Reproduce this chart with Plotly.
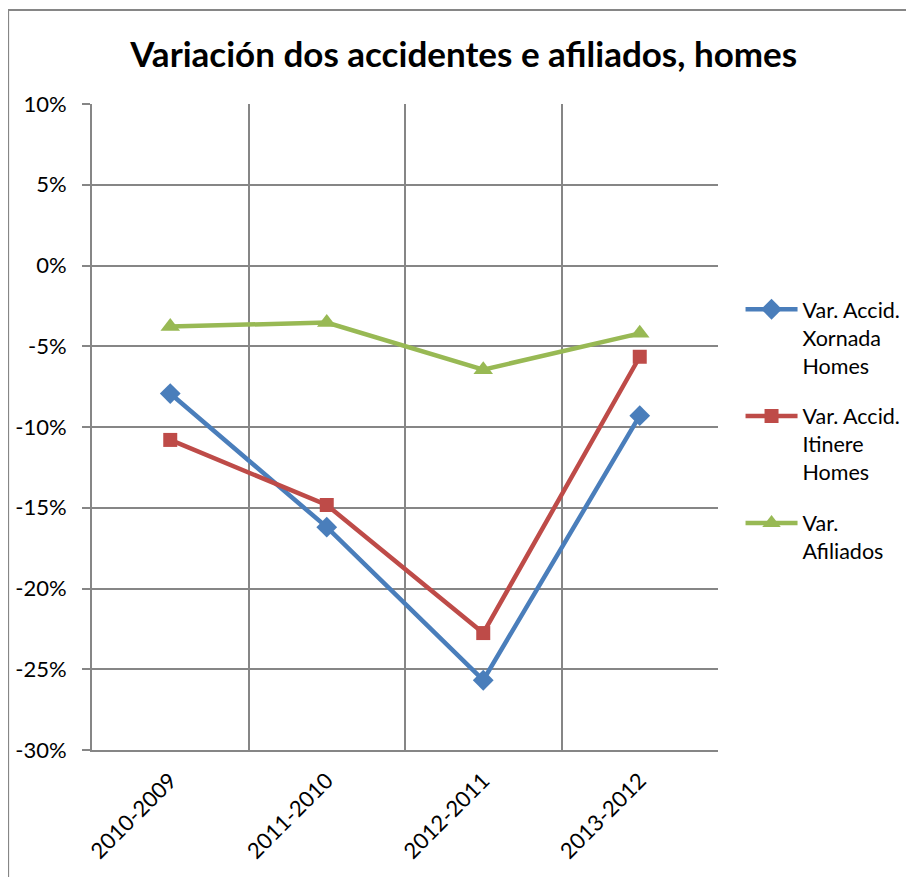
import plotly.graph_objects as go

categories = ["2010-2009", "2011-2010", "2012-2011", "2013-2012"]
xornada = [-0.0793, -0.162, -0.2568, -0.093]
itinere = [-0.108, -0.1483, -0.2276, -0.0565]
afiliados = [-0.0378, -0.0353, -0.0645, -0.042]
series_names = ["Var. Accid.<br>Xornada<br>Homes", "Var. Accid.<br>Itinere<br>Homes", "Var.<br>Afiliados"]
y_tickvals = [-0.30, -0.25, -0.20, -0.15, -0.10, -0.05, 0.0, 0.05, 0.10]
y_ticktext = ["-30%", "-25%", "-20%", "-15%", "-10%", "-5%", "0%", "5%", "10%"]

FONT = "Lato, 'Open Sans', sans-serif"
GRID = "#868686"

fig = go.Figure()
styles = [
    (xornada, "#4A7EBB", "diamond", 16),
    (itinere, "#BE4B48", "square", 14),
    (afiliados, "#98B954", "triangle-up", 17),
]
for i, (vals, col, sym, sz) in enumerate(styles):
    fig.add_trace(go.Scatter(
        x=categories, y=vals, name=series_names[i], mode="lines+markers",
        line=dict(color=col, width=4.5),
        marker=dict(symbol=sym, size=sz, color=col),
        legendgroup=f"g{i}",
    ))

fig.update_layout(
    width=906, height=869,
    margin=dict(l=84, r=196, t=96, b=127, autoexpand=False),
    paper_bgcolor="white", plot_bgcolor="white",
    font=dict(family=FONT, color="black", size=22),
    title=dict(text="<b>Variación dos accidentes e afiliados, homes</b>",
               x=0.503, xanchor="center", y=0.946, yanchor="middle",
               font=dict(size=35, family=FONT, color="black")),
    showlegend=True,
    legend=dict(x=1.036, y=0.714, xanchor="left", yanchor="top",
                font=dict(size=21.5, family=FONT, color="black"),
                valign="top", itemwidth=52, tracegroupgap=20,
                bgcolor="rgba(0,0,0,0)"),
    xaxis=dict(type="category", tickson="boundaries", showgrid=True,
               gridcolor=GRID, gridwidth=1.5, showline=True, linecolor=GRID,
               linewidth=2, mirror=False, ticks="", tickangle=-45,
               tickfont=dict(size=22), range=[-0.5, 3.5],
               ticklabelstandoff=7, automargin=False),
    yaxis=dict(range=[-0.30, 0.10], tickvals=y_tickvals, ticktext=y_ticktext,
               showgrid=True, gridcolor=GRID, gridwidth=1.5, showline=True,
               linecolor=GRID, linewidth=2, ticks="outside", ticklen=8,
               tickcolor=GRID, tickwidth=1.5, zeroline=False,
               tickfont=dict(size=22), ticklabelstandoff=11, automargin=False),
    shapes=[dict(type="rect", xref="paper", yref="paper",
                 x0=-0.134, x1=1.5, y0=-0.5, y1=1.1455,
                 line=dict(color=GRID, width=2), fillcolor="rgba(0,0,0,0)",
                 layer="below")],
)

fig.write_html("out.html")
